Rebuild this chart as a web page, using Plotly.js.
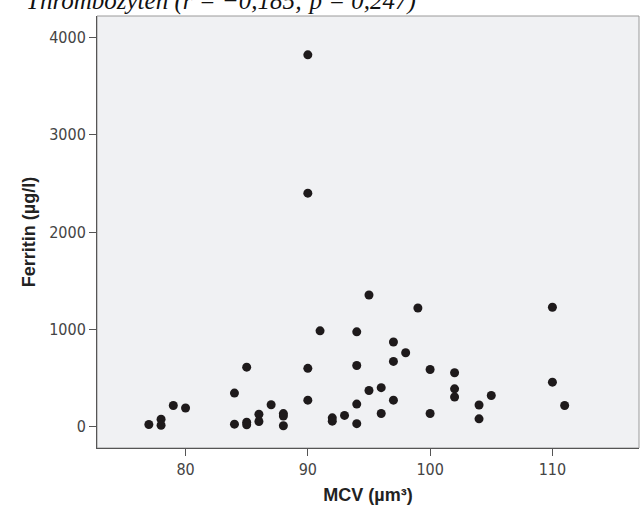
<!DOCTYPE html>
<html>
<head>
<meta charset="utf-8">
<script src="https://cdn.plot.ly/plotly-3.0.1.min.js"></script>
<style>html,body{margin:0;padding:0;background:#fff;}#chart{width:640px;height:505px;}</style>
</head>
<body>
<div id="chart"></div>
<script>
// MCV (µm³) values
const mcv = [77, 78, 78, 79, 80, 84, 84, 85, 85, 85, 86, 86, 87, 88, 88, 88,
  90, 90, 90, 90, 91, 92, 92, 93, 94, 94, 94, 94, 95, 95, 96, 96,
  97, 97, 97, 98, 99, 100, 100, 102, 102, 102, 104, 104, 105, 110, 110, 111];
// Ferritin (µg/l) values
const ferritin = [22, 77, 15, 218, 192, 345, 26, 612, 46, 19, 128, 53, 225, 135, 110, 10,
  3822, 2400, 600, 273, 985, 91, 57, 116, 975, 629, 232, 31, 1354, 372, 401, 136,
  870, 671, 273, 760, 1220, 588, 136, 554, 389, 305, 223, 81, 321, 1228, 458, 218];

const xTicks = [80, 90, 100, 110];
const yTicks = [0, 1000, 2000, 3000, 4000];

const tickFont = {family: 'Liberation Sans Narrow, DejaVu Sans Condensed, Arial Narrow, sans-serif', size: 16, color: '#444'};
const titleFont = {family: 'Liberation Sans, Arial, sans-serif', size: 18, color: '#222', weight: 'bold'};

const trace = {
  x: mcv, y: ferritin, type: 'scatter', mode: 'markers',
  marker: {size: 9, color: '#1e1a1b', line: {width: 0}},
  hoverinfo: 'x+y'
};

const layout = {
  width: 640, height: 505,
  margin: {l: 97, r: 1, t: 16, b: 57, pad: 0},
  paper_bgcolor: '#ffffff',
  plot_bgcolor: '#f0f1f3',
  showlegend: false,
  title: {
    text: 'Thrombozyten (r = −0,185; p = 0,247)',
    font: {family: 'Liberation Serif, Times New Roman, serif', size: 25, color: '#111', style: 'italic'},
    x: 26/640, xanchor: 'left', xref: 'container',
    y: 1, yanchor: 'middle', yref: 'container'
  },
  xaxis: {
    range: [72.76, 117.08], tickvals: xTicks, ticktext: xTicks.map(String),
    showgrid: false, zeroline: false, showline: true, linecolor: '#555', linewidth: 1,
    ticks: 'outside', ticklen: 7, tickcolor: '#555', tickfont: tickFont,
    title: {text: 'MCV (µm³)', font: titleFont, standoff: 12}
  },
  yaxis: {
    range: [-219, 4221], tickvals: yTicks, ticktext: yTicks.map(String),
    showgrid: false, zeroline: false, showline: true, linecolor: '#555', linewidth: 1,
    ticks: 'outside', ticklen: 7, tickcolor: '#555', tickfont: tickFont,
    title: {text: 'Ferritin (µg/l)', font: titleFont, standoff: 8}
  },
  shapes: [{type: 'rect', xref: 'paper', yref: 'paper', x0: 0, x1: 1, y0: 0, y1: 1,
    line: {color: '#9a9a9a', width: 1}, layer: 'below'}]
};

Plotly.newPlot('chart', [trace], layout, {displayModeBar: false, staticPlot: true});
</script>
</body>
</html>
